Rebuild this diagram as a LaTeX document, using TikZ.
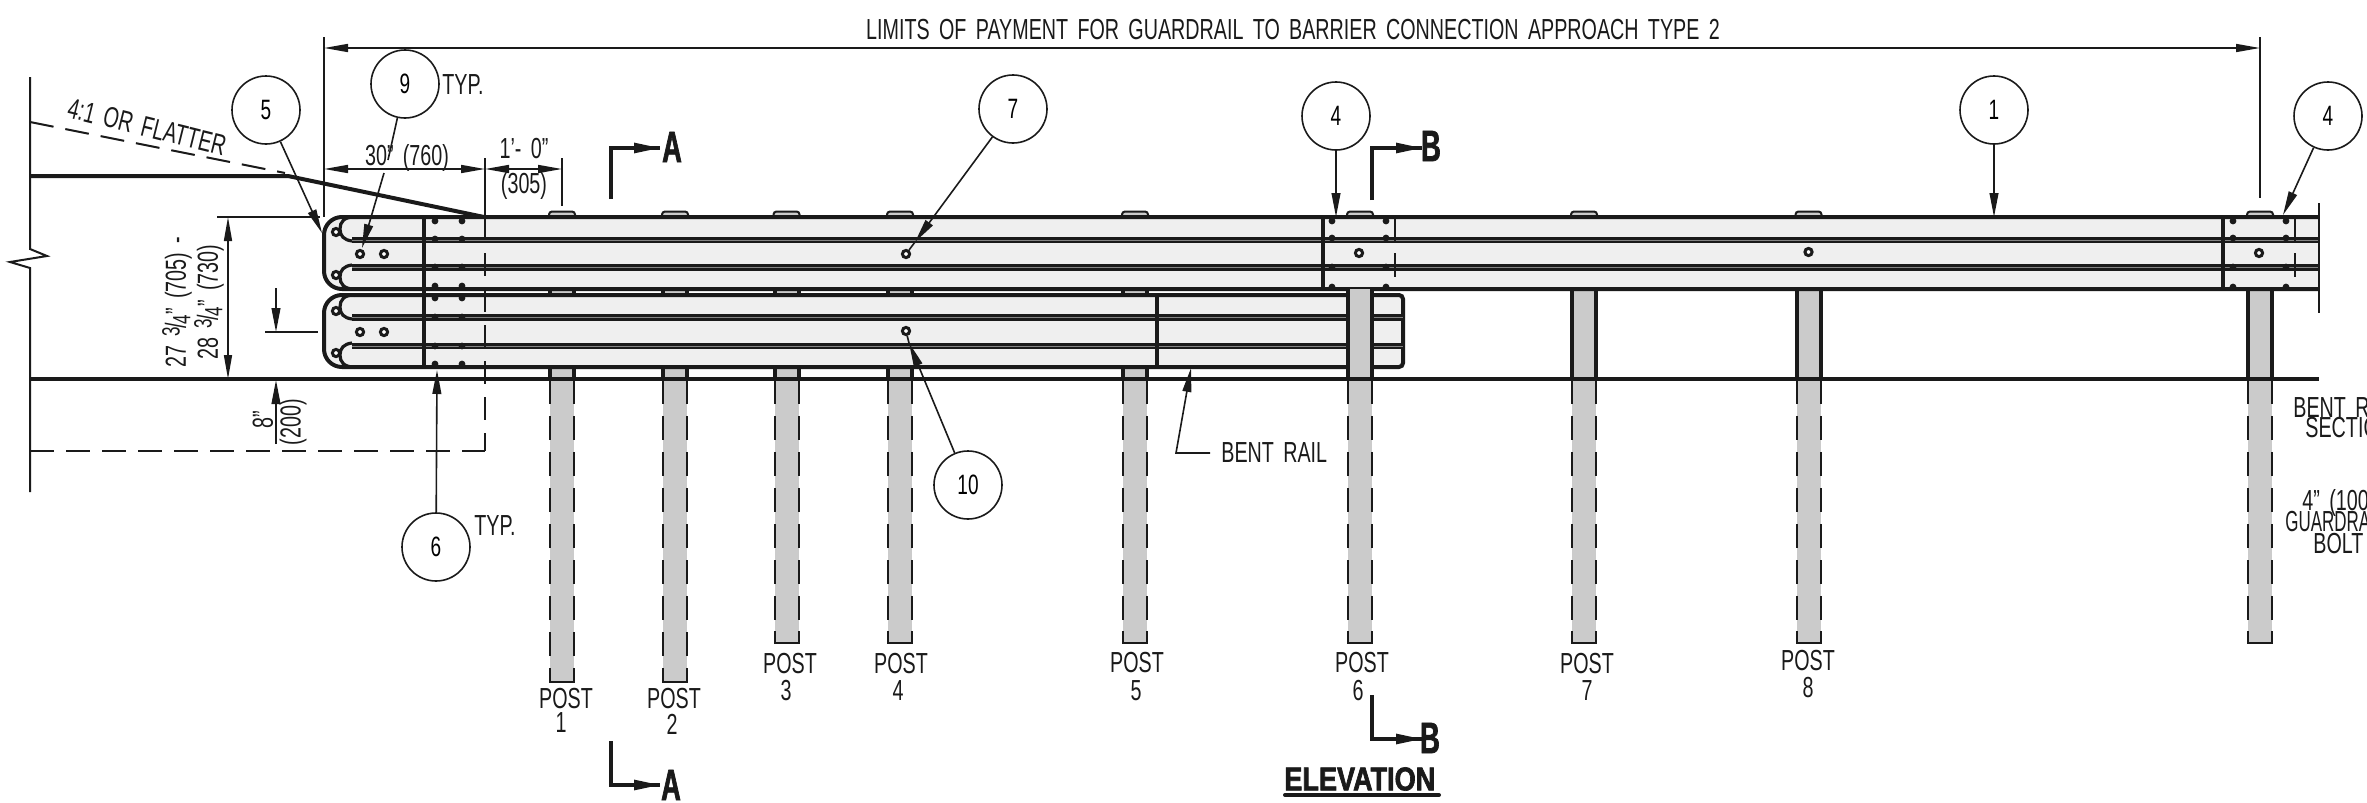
\documentclass[tikz,border=0pt]{standalone}
\usepackage{fontspec}
\setmainfont[FakeStretch=0.68,WordSpace=1.7]{Liberation Sans}
\newfontfamily\boldf[FakeStretch=0.62,FakeBold=1.5]{Liberation Sans Bold}
\newfontfamily\titlef[FakeStretch=0.82,FakeBold=2]{Liberation Sans Bold}
\usetikzlibrary{arrows.meta}
\definecolor{ink}{HTML}{1A1A1A}
\definecolor{railfill}{HTML}{EFEFEF}
\definecolor{postfill}{HTML}{CBCBCB}
\tikzset{
  thinl/.style={draw=ink,line width=1pt},
  thickl/.style={draw=ink,line width=2pt},
  dashl/.style={draw=ink,line width=1pt,dash pattern=on 12pt off 6pt},
  lead/.style={draw=ink,line width=0.8pt,-{Triangle[length=12pt,width=4.4pt]}},
  dimb/.style={draw=ink,line width=0.8pt,{Triangle[length=12pt,width=4pt]}-{Triangle[length=12pt,width=4pt]}},
  tag/.style={circle,draw=ink,line width=0.8pt,minimum size=34pt,inner sep=0pt,font=\fontsize{14}{14}\selectfont},
  lab/.style={inner sep=0pt,font=\fontsize{14.5}{14.5}\selectfont,text=ink},
  postlab/.style={lab,align=center},
  secl/.style={inner sep=0pt,font=\fontsize{22}{22}\selectfont\boldf,text=ink},
  secm/.style={draw=ink,line width=2.4pt},
  sectip/.style={draw=ink,line width=1.4pt,-{Triangle[length=13pt,width=5pt]}},
  boltd/.style={circle,fill=ink,inner sep=0pt,minimum size=3.4pt},
  bolto/.style={circle,draw=ink,fill=white,line width=1.5pt,inner sep=0pt,minimum size=3.6pt},
}
\newcommand{\hq}{\raisebox{.4ex}{\fontsize{12.5}{12.5}\selectfont 3}\kern-.05em/\kern-.05em\raisebox{-.3ex}{\fontsize{12.5}{12.5}\selectfont 4}}
\newcommand{\postbox}[3]{% centre x, bottom y, solid-top y
  \fill[postfill] (#1-12,#3) rectangle (#1+12,#2);
  \draw[thickl] (#1-12,#3) -- (#1-12,379) (#1+12,#3) -- (#1+12,379);
  \draw[dashl] (#1-12,380) -- (#1-12,#2-10) (#1+12,380) -- (#1+12,#2-10);
  \draw[thinl] (#1-12,#2-12) -- (#1-12,#2) -- (#1+12,#2) -- (#1+12,#2-12);
}
\newcommand{\blockcap}[1]{%
  \filldraw[fill=postfill,draw=ink,line width=1pt,rounded corners=1.5pt] (#1-13,217) -- (#1-13,211.5) -- (#1+13,211.5) -- (#1+13,217);
}
\newcommand{\stripes}[3]{% x1 x2 centre y of stripe
  \draw[draw=ink,line width=3.2pt] (#1,#3) -- (#2,#3);
  \draw[draw=postfill!60!ink,line width=.5pt] (#1,#3) -- (#2,#3);
}
\newcommand{\bolts}[6]{%
  \foreach \bx in {#1,#2} \foreach \by in {#3,#4,#5,#6} \node[boltd] at (\bx,\by) {};
}
\begin{document}
\begin{tikzpicture}[x=0.5pt,y=-0.5pt]
\useasboundingbox (0,0) rectangle (2367,803);
\begin{scope}
\clip (0,0) rectangle (2367,803);

% posts behind
\postbox{562}{682}{289}
\postbox{675}{682}{289}
\postbox{786.5}{643}{289}
\postbox{900}{643}{289}
\postbox{1135}{643}{289}
\postbox{1584}{643}{289}
\postbox{1808.5}{643}{289}
\postbox{2260}{643}{289}
\foreach \p in {562,675,786.5,900,1135,1360,1584,1808.5,2260} {\blockcap{\p}}

% upper rail
\fill[railfill] (334,217) -- (2319,217) -- (2319,289) -- (334,289) to[out=180,in=90] (324,279) -- (324,227) to[out=-90,in=180] (334,217);
\draw[thickl,rounded corners=9pt] (2319,217) -- (324,217) -- (324,289) -- (2319,289);
\draw[thinl,line width=1.6pt] (354,217) .. controls (344,217) and (340,222) .. (340,229) .. controls (340,236) and (344,240) .. (352,241);
\draw[thinl,line width=1.6pt] (354,289) .. controls (344,289) and (340,284) .. (340,277) .. controls (340,270) and (344,266) .. (352,265);
\stripes{352}{2319}{240}
\stripes{352}{2319}{267.5}

% lower rail
\fill[railfill] (334,295) -- (1403,295) -- (1403,367) -- (334,367) to[out=180,in=90] (324,357) -- (324,305) to[out=-90,in=180] (334,295);
\draw[thickl,rounded corners=9pt] (354,295) -- (324,295) -- (324,367) -- (354,367);
\draw[thickl,rounded corners=2pt] (354,295) -- (1403,295) -- (1403,367) -- (354,367);
\draw[thinl,line width=1.6pt] (354,295) .. controls (344,295) and (340,300) .. (340,307) .. controls (340,314) and (344,318) .. (352,319);
\draw[thinl,line width=1.6pt] (354,367) .. controls (344,367) and (340,362) .. (340,355) .. controls (340,348) and (344,344) .. (352,343);
\stripes{352}{1403}{317.5}
\stripes{352}{1403}{346}

% post 6 in front of lower rail
\postbox{1360}{643}{289}

% joints
\draw[thickl] (424,217) -- (424,367);
\draw[thickl] (1157,295) -- (1157,367);
\draw[thickl] (1323,217) -- (1323,289);
\draw[thickl] (2223,217) -- (2223,289);
\draw[thinl] (1395,217) -- (1395,243) (1395,253) -- (1395,277);
\draw[thinl] (2295,217) -- (2295,243) (2295,253) -- (2295,277);
\draw[draw=ink,line width=1pt] (2319,203) -- (2319,313);

% dashed limit
\draw[thinl,dash pattern=on 11.5pt off 6.5pt] (485,217) -- (485,451);
\draw[dashl,line width=1.2pt] (30,451) -- (485,451);

% bolts
\bolts{435}{462}{221}{239}{267}{286}
\bolts{435}{462}{298}{317}{346}{364}
\bolts{1332}{1386}{221}{238}{267}{287}
\bolts{2233}{2286}{221}{238}{267}{287}
\foreach \nm/\bx/\by in {o1/360/254,o2/384/254,o3/360/332,o4/384/332,o5/906/254,o6/906/331,o7/1359/253,o8/1808.5/252,o9/2259/253,e1/336/232,e2/336/275,e3/336/311,e4/336/353}
  \node[bolto] (\nm) at (\bx,\by) {};

% ground and slope
\draw[draw=ink,line width=1pt] (30,77) -- (30,249) -- (47,256) -- (10,262) -- (30,268) -- (30,492);
\draw[thickl] (30,379) -- (2319,379);
\draw[thickl] (30,176) -- (288,176) -- (484,217);
\draw[dashl] (30,122) -- (285,173);
\node[lab,rotate=-14] (slope) at (147,127) {4:1 OR FLATTER};

% top dimension
\coordinate (L1) at (324,48); \coordinate (L2) at (2260,48);
\draw[thinl,line width=0.8pt] (324,37) -- (324,217);
\draw[thinl,line width=0.8pt] (2260,37) -- (2260,198);
\draw[dimb] (L1) -- (L2);
\node[lab] (lim) at (1293,30) {LIMITS OF PAYMENT FOR GUARDRAIL TO BARRIER CONNECTION APPROACH TYPE 2};

% 30 in and 1 ft dimensions
\coordinate (d1) at (324,169); \coordinate (d2) at (485,169); \coordinate (d3) at (562,169);
\draw[dimb] (d1) -- (d2);
\draw[dimb] (d2) -- (d3);
\draw[thinl,line width=0.8pt] (485,158) -- (485,217) (562,158) -- (562,206);
\node[lab] (t30) at (407,158) {30" (760)};
\node[lab] (t1f) at (524,149) {1'- 0"};
\node[lab] (t305) at (524,186) {(305)};

% height dimension
\coordinate (h1) at (228,217); \coordinate (h2) at (228,379);
\draw[thinl,line width=0.8pt] (217,217) -- (320,217);
\draw[dimb] (h1) -- (h2);
\node[lab,rotate=90,anchor=west] (hA) at (177,368) {27 \hq" (705) -};
\node[lab,rotate=90,anchor=west] (hB) at (209,360) {28 \hq" (730)};

% offset dimensions
\coordinate (s1) at (276,288); \coordinate (s2) at (276,332);
\draw[lead] (s1) -- (s2);
\draw[thinl,line width=0.8pt] (265,332) -- (318,332);
\coordinate (g1) at (276,444); \coordinate (g2) at (276,380);
\draw[lead] (g1) -- (g2);
\node[lab,rotate=90] (t8) at (263,420) {8"};
\node[lab,rotate=90] (t200) at (293,422) {(200)};

% callouts
\node[tag] (c5) at (266,110) {5};
\node[tag] (c9) at (405,84) {9};
\node[tag] (c7) at (1013,109) {7};
\node[tag] (c4a) at (1336,116) {4};
\node[tag] (c1) at (1994,110) {1};
\node[tag] (c4b) at (2328,116) {4};
\node[tag] (c6) at (436,547) {6};
\node[tag] (c10) at (968,485) {10};
\node[lab,anchor=west] (typ9) at (442,85) {TYP.};
\node[lab,anchor=west] (typ6) at (474,526) {TYP.};

\coordinate (e5) at (322,233);
\coordinate (e9) at (362,248);
\coordinate (e7) at (915,242);
\coordinate (e4a) at (1336,217);
\coordinate (e1) at (1994,217);
\coordinate (e4b) at (2283,215);
\coordinate (e6) at (437,370);
\coordinate (e10) at (909,343);
\draw[lead] (c5) -- (e5);
\draw[draw=ink,line width=0.8pt] (c9) -- (388,160);
\draw[lead] (384,173) -- (e9);
\draw[lead] (c7) -- (e7);
\draw[draw=ink,line width=0.8pt] (e7) -- (o5);
\draw[lead] (c4a) -- (e4a);
\draw[lead] (c1) -- (e1);
\draw[lead] (c4b) -- (e4b);
\draw[lead] (c6) -- (e6);
\draw[lead] (c10) -- (e10);
\draw[draw=ink,line width=0.8pt] (e10) -- (o6);

% bent rail
\node[lab,anchor=west] (bent) at (1221,453) {BENT RAIL};
\coordinate (bk) at (1176,453);
\coordinate (bt) at (1191,368);
\draw[lead] (bent.west) ++(-11,0) -- (bk) -- (bt);

% section marks
\coordinate (A1) at (611,199); \coordinate (A2) at (611,148); \coordinate (A3) at (660,148);
\draw[secm] (A1) -- (A2) -- (A3);
\draw[sectip] (A2) -- (A3);
\node[secl] (sa1) at (672,147) {A};
\coordinate (A4) at (611,741); \coordinate (A5) at (611,785); \coordinate (A6) at (660,785);
\draw[secm] (A4) -- (A5) -- (A6);
\draw[sectip] (A5) -- (A6);
\node[secl] (sa2) at (671,785) {A};
\coordinate (B1) at (1372,200); \coordinate (B2) at (1372,148); \coordinate (B3) at (1422,148);
\draw[secm] (B1) -- (B2) -- (B3);
\draw[sectip] (B2) -- (B3);
\node[secl] (sb1) at (1431,146) {B};
\coordinate (B4) at (1372,695); \coordinate (B5) at (1372,739); \coordinate (B6) at (1422,739);
\draw[secm] (B4) -- (B5) -- (B6);
\draw[sectip] (B5) -- (B6);
\node[secl] (sb2) at (1430,738) {B};

% post labels
\node[postlab] (p1) at (566,699) {POST};  \node[postlab] (n1) at (561,723) {1};
\node[postlab] (p2) at (674,699) {POST};  \node[postlab] (n2) at (672,724) {2};
\node[postlab] (p3) at (790,664) {POST};  \node[postlab] (n3) at (786,691) {3};
\node[postlab] (p4) at (901,664) {POST};  \node[postlab] (n4) at (898,691) {4};
\node[postlab] (p5) at (1137,663) {POST}; \node[postlab] (n5) at (1136,691) {5};
\node[postlab] (p6) at (1362,663) {POST}; \node[postlab] (n6) at (1358,691) {6};
\node[postlab] (p7) at (1587,664) {POST}; \node[postlab] (n7) at (1587,691) {7};
\node[postlab] (p8) at (1808,661) {POST}; \node[postlab] (n8) at (1808,688) {8};

% elevation title
\node[inner sep=0pt,text=ink,anchor=west,font=\fontsize{16.5}{16.5}\selectfont\titlef] (elev) at (1284,779) {ELEVATION};
\draw[draw=ink,line width=2pt,line cap=round] (1285,795) -- (1439,795);

% cut-off notes at the right
\node[lab,anchor=west] (r1) at (2293,408) {BENT R};
\node[lab,anchor=west] (r2) at (2305,428) {SECTIO};
\node[lab,anchor=west] (r3) at (2302,503) {4" (100)};
\node[lab,anchor=west] (r4) at (2285,522) {\scalebox{.86}[1]{GUARDRA}};
\node[lab,anchor=west] (r5) at (2313,544) {BOLT};
\end{scope}
\end{tikzpicture}
\end{document}
